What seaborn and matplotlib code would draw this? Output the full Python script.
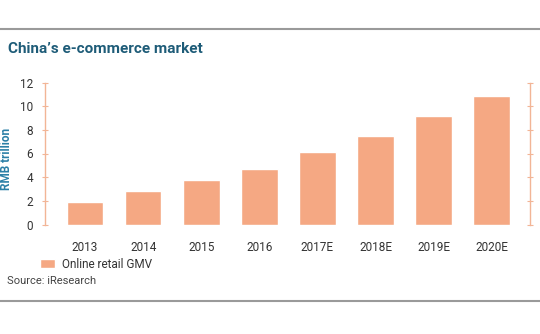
import matplotlib
matplotlib.use("Agg")
import matplotlib.pyplot as plt
from matplotlib.lines import Line2D
import seaborn as sns
import pandas as pd

# Online retail GMV, RMB trillion
years = ["2013", "2014", "2015", "2016", "2017E", "2018E", "2019E", "2020E"]
gmv = [1.9, 2.8, 3.8, 4.7, 6.1, 7.5, 9.2, 10.9]
y_ticks = [0, 2, 4, 6, 8, 10, 12]

BAR = "#F5A883"
SPINE = "#F2B596"
TITLE = "#1E5C78"
YLAB = "#2A7FA6"
TEXT = "#333333"

sns.set_theme(style="white")
plt.rcParams["font.family"] = ["Roboto", "DejaVu Sans"]

df = pd.DataFrame({"year": years, "gmv": gmv})

fig = plt.figure(figsize=(5.4, 3.34), dpi=100)
W, H = 540, 334
ax = fig.add_axes([45 / W, 1 - 224.5 / H, (530 - 45) / W, (224.5 - 82.5) / H])

sns.barplot(data=df, x="year", y="gmv", color=BAR, saturation=1, width=0.63,
            label="Online retail GMV", ax=ax)

ax.set_xlim(-0.69, 7.66)
ax.set_ylim(0, 12)
ax.set_yticks(y_ticks)
ax.set_xlabel("")
ax.set_ylabel("RMB trillion", color=YLAB, fontsize=8.5, fontweight="bold")
ax.yaxis.set_label_coords(-0.066, 0.46)

for side in ("top", "bottom"):
    ax.spines[side].set_visible(False)
for side in ("left", "right"):
    ax.spines[side].set_visible(True)
    ax.spines[side].set_color(SPINE)
    ax.spines[side].set_linewidth(1.0)

ax.tick_params(axis="y", which="both", left=True, right=True, direction="inout",
               length=5, width=0.8, color=SPINE, labelsize=8.5, labelcolor=TEXT, pad=6)
ax.tick_params(axis="x", bottom=False, labelsize=8.5, labelcolor=TEXT, pad=6)

leg = ax.legend(loc="center left", bbox_to_anchor=(40 / W, 1 - 264 / H),
                bbox_transform=fig.transFigure, frameon=False, fontsize=8.5,
                handlelength=1.3, handleheight=0.8, handletextpad=0.6,
                borderaxespad=0, borderpad=0)
for t in leg.get_texts():
    t.set_color(TEXT)

fig.text(8 / W, 1 - 49 / H, "China\u2019s e-commerce market", color=TITLE,
         fontsize=11, fontweight="bold", va="center", ha="left")
fig.text(7 / W, 1 - 281 / H, "Source: iResearch", color="#444444",
         fontsize=8, va="center", ha="left")

fig.add_artist(Line2D([0, 1], [1 - 29 / H, 1 - 29 / H], transform=fig.transFigure,
                      color="#9a9a9a", linewidth=1.5))
fig.add_artist(Line2D([0, 1], [1 - 301 / H, 1 - 301 / H], transform=fig.transFigure,
                      color="#9a9a9a", linewidth=1.5))

fig.savefig("out.png", dpi=100, facecolor="white")
